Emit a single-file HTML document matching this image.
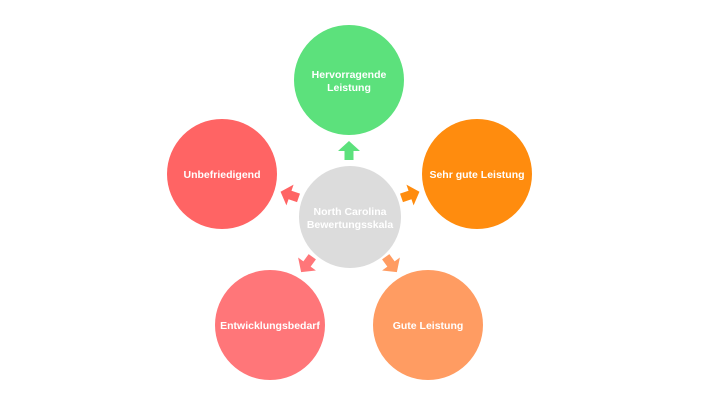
<!DOCTYPE html>
<html><head><style>
html,body{margin:0;padding:0;background:#fff;}
svg{display:block;}
text{font-family:"Liberation Sans",sans-serif;font-size:10.5px;font-weight:bold;fill:#fff;text-anchor:middle;}
</style></head><body>
<svg width="701" height="401" viewBox="0 0 701 401">
<defs>
<path id="ar" d="M0,-10 L11,0 L4.5,0 L4.5,9 L-4.5,9 L-4.5,0 L-11,0 Z"/>
</defs>
<circle cx="350" cy="217" r="51" fill="#dcdcdc"/>
<text x="350" y="215">North Carolina</text>
<text x="350" y="228">Bewertungsskala</text>

<circle cx="349" cy="80" r="55" fill="#5ce17c"/>
<text x="349" y="78">Hervorragende</text>
<text x="349" y="91">Leistung</text>

<circle cx="477" cy="174" r="55" fill="#ff8c0e"/>
<text x="477" y="178">Sehr gute Leistung</text>

<circle cx="222" cy="174" r="55" fill="#ff6464"/>
<text x="222" y="178">Unbefriedigend</text>

<circle cx="270" cy="325" r="55" fill="#ff7679"/>
<text x="270" y="329">Entwicklungsbedarf</text>

<circle cx="428" cy="325" r="55" fill="#ff9c62"/>
<text x="428" y="329">Gute Leistung</text>

<use href="#ar" fill="#5ce17c" transform="translate(349,151)"/>
<use href="#ar" fill="#ff8c0e" transform="translate(410,195) rotate(71)"/>
<use href="#ar" fill="#ff6464" transform="translate(290,195) rotate(-71)"/>
<use href="#ar" fill="#ff7679" transform="translate(307,264) rotate(-144)"/>
<use href="#ar" fill="#ff9c62" transform="translate(391,264) rotate(144)"/>
</svg>
</body></html>
